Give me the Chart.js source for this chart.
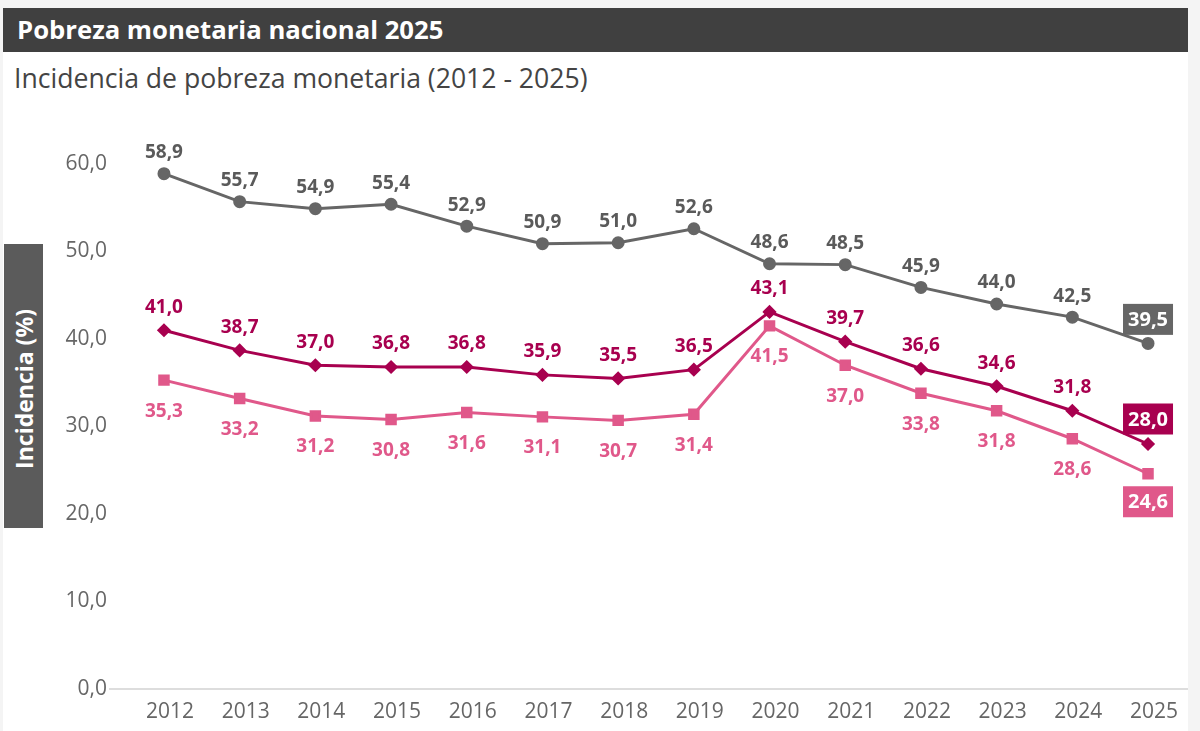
<!DOCTYPE html>
<html>
<head>
<meta charset="utf-8">
<script src="https://cdn.jsdelivr.net/npm/chart.js@4.4.1/dist/chart.umd.min.js"></script>
<style>
  body { margin: 0; background: #f4f4f4; font-family: "Open Sans", sans-serif; }
  #wrap { position: relative; width: 1200px; height: 731px; overflow: hidden; }
  #panel { position: absolute; left: 3px; top: 52px; width: 1185px; height: 679px; background: #fff; }
  #title { position: absolute; left: 3px; top: 8px; width: 1185px; height: 44px; background: #404040;
           color: #fff; font-weight: bold; font-size: 25.7px; line-height: 44px; box-sizing: border-box; padding-left: 14px; }
  #subtitle { position: absolute; left: 14px; top: 60px; font-size: 26.6px; color: #444; line-height: 36px; }
  #ylab { position: absolute; left: 4px; top: 244px; width: 39px; height: 284px; background: #5b5b5b; }
  #ylab span { position: absolute; left: 50%; top: 51%; transform: translate(-50%, -50%) rotate(-90deg);
               white-space: nowrap; color: #fff; font-weight: bold; font-size: 23px; }
  #c { position: absolute; left: 0; top: 0; }
</style>
</head>
<body>
<div id="wrap">
  <div id="panel"></div>
  <div id="title">Pobreza monetaria nacional 2025</div>
  <div id="subtitle">Incidencia de pobreza monetaria (2012 - 2025)</div>
  <canvas id="c" width="1200" height="731"></canvas>
  <div id="ylab"><span>Incidencia (%)</span></div>
</div>
<script>
let years = [2012, 2013, 2014, 2015, 2016, 2017, 2018, 2019, 2020, 2021, 2022, 2023, 2024, 2025]

let gray_values = [58.9, 55.7, 54.9, 55.4, 52.9, 50.9, 51.0, 52.6, 48.6, 48.5, 45.9, 44.0, 42.5, 39.5]
let dark_values = [41.0, 38.7, 37.0, 36.8, 36.8, 35.9, 35.5, 36.5, 43.1, 39.7, 36.6, 34.6, 31.8, 28.0]
let pink_values = [35.3, 33.2, 31.2, 30.8, 31.6, 31.1, 30.7, 31.4, 41.5, 37.0, 33.8, 31.8, 28.6, 24.6]

let y_ticks = [0, 10, 20, 30, 40, 50, 60]

const GRAY = '#666666'
const DARK = '#a8004f'
const PINK = '#e0588a'

function points(values) {
    return values.map((v, i) => ({ x: years[i], y: v }))
}

function fmt(v) {
    return v.toFixed(1).replace('.', ',')
}

// value labels, drawn from the element positions chart.js computed
const valueLabels = {
    id: 'valueLabels',
    afterDatasetsDraw(chart) {
        const ctx = chart.ctx
        chart.data.datasets.forEach((ds, di) => {
            const meta = chart.getDatasetMeta(di)
            meta.data.forEach((el, i) => {
                const v = ds.data[i].y
                const last = i == meta.data.length - 1
                ctx.save()
                ctx.textAlign = 'center'
                ctx.textBaseline = 'middle'
                if (last) {
                    ctx.font = 'bold 20px "Open Sans"'
                    const w = 50, h = 31
                    const cy = el.y + ds.boxOffset
                    ctx.fillStyle = ds.borderColor
                    ctx.fillRect(el.x - w / 2, cy - h / 2, w, h)
                    ctx.fillStyle = '#fff'
                    ctx.fillText(fmt(v), el.x, cy + 1)
                } else {
                    ctx.font = 'bold 19px "Open Sans"'
                    ctx.fillStyle = ds.labelColor
                    ctx.fillText(fmt(v), el.x, el.y + ds.labelOffset)
                }
                ctx.restore()
            })
        })
    }
}

const config = {
    type: 'line',
    data: {
        datasets: [{
            data: points(gray_values),
            borderColor: GRAY,
            backgroundColor: GRAY,
            labelColor: '#5a5a5a',
            labelOffset: -21,
            boxOffset: -24,
            borderWidth: 3,
            pointStyle: 'circle',
            pointRadius: 5,
            pointHoverRadius: 5
        }, {
            data: points(dark_values),
            borderColor: DARK,
            backgroundColor: DARK,
            labelColor: DARK,
            labelOffset: -23,
            boxOffset: -25,
            borderWidth: 3,
            pointStyle: 'rectRot',
            pointRadius: 5,
            pointHoverRadius: 5
        }, {
            data: points(pink_values),
            borderColor: PINK,
            backgroundColor: PINK,
            labelColor: PINK,
            labelOffset: 31,
            boxOffset: 28,
            borderWidth: 3,
            pointStyle: 'rect',
            pointRadius: 6,
            pointHoverRadius: 6
        }]
    },
    options: {
        responsive: false,
        animation: false,
        layout: { padding: { top: 164, right: 13, left: 0, bottom: 0 } },
        plugins: { legend: { display: false }, tooltip: { enabled: false } },
        scales: {
            x: {
                type: 'linear',
                min: 2011.287,
                max: 2025.515,
                afterBuildTicks: (scale) => { scale.ticks = years.map(y => ({ value: y })) },
                afterFit: (scale) => { scale.height = 42 },
                grid: { display: false, drawTicks: false },
                border: { color: '#dddddd', width: 2 },
                ticks: {
                    color: '#666',
                    font: { family: 'Open Sans', size: 21 },
                    padding: 10,
                    labelOffset: 6,
                    maxRotation: 0,
                    autoSkip: false,
                    callback: (v) => String(v)
                }
            },
            y: {
                min: 0,
                max: 60,
                afterBuildTicks: (scale) => { scale.ticks = y_ticks.map(v => ({ value: v })) },
                afterFit: (scale) => { scale.width = 110 },
                grid: { display: false, drawTicks: false },
                border: { display: false },
                ticks: {
                    color: '#666',
                    font: { family: 'Open Sans', size: 21 },
                    padding: 3,
                    callback: (v) => fmt(v)
                }
            }
        }
    },
    plugins: [valueLabels]
}

new Chart(document.getElementById('c'), config)
</script>
</body>
</html>
